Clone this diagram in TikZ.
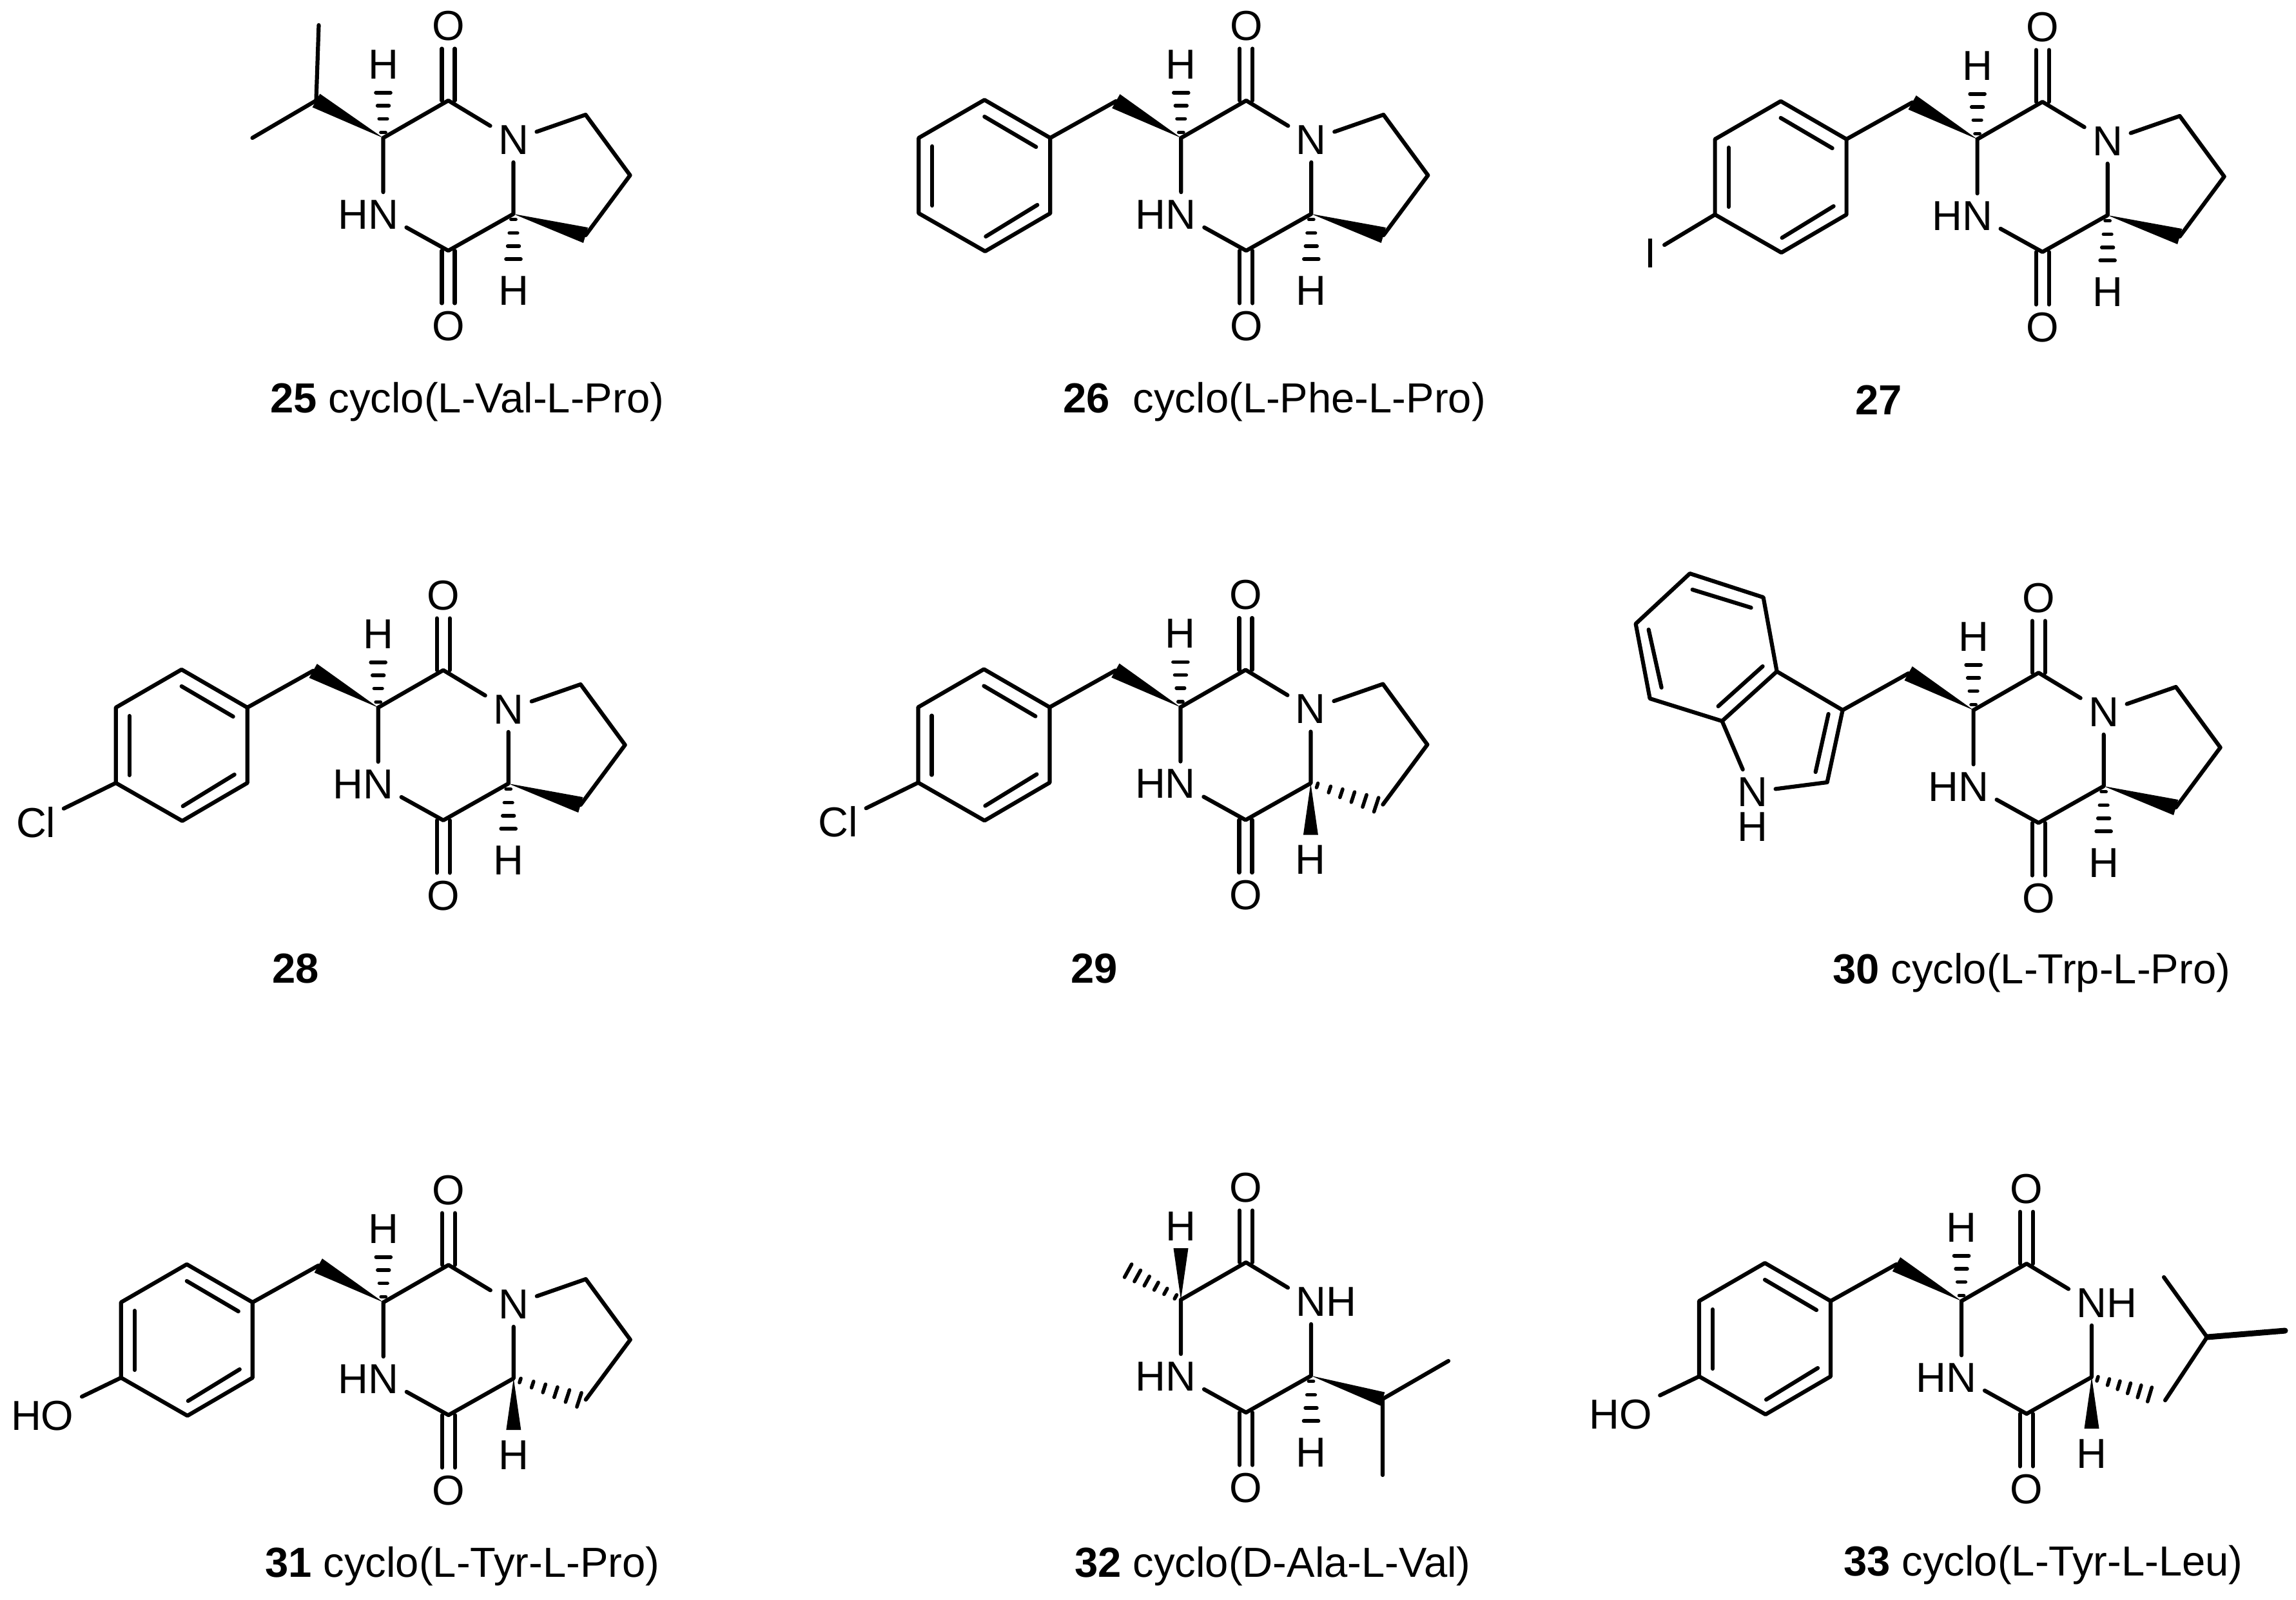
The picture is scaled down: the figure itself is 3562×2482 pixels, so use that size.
\documentclass[tikz,border=0pt]{standalone}
\usepackage{fontspec}
\setmainfont{Liberation Sans}
\usetikzlibrary{calc}

\tikzset{
   bond/.style={line width=0.62pt, line cap=round, line join=round},
   boldbond/.style={line width=0.9pt, line cap=round},
   hashmark/.style={line width=0.56pt, line cap=round},
   atom/.style={font=\fontsize{6.5}{7.5}\selectfont, inner sep=1.05pt},
   cpdname/.style={font=\fontsize{6.52}{7.5}\selectfont, inner sep=0pt, anchor=base west},
   cpdnum/.style={font=\fontsize{6.52}{7.5}\selectfont\bfseries, inner sep=0pt, anchor=base},
}

% wedge: tip, wide end, half width
\newcommand{\wedgebond}[3]{\fill ($(#2)!#3!90:(#1)$) -- (#1) -- ($(#2)!#3!-90:(#1)$) -- cycle;}
% hashed wedge: start, end, fractions
\newcommand{\hashbond}[3]{%
   \foreach \hpos in {#3} {
      \pgfmathsetmacro{\hw}{0.25+\hpos*1.0}
      \coordinate (hm) at ($(#1)!\hpos!(#2)$);
      \draw[hashmark] ($(hm)!\hw pt!90:(#2)$) -- ($(hm)!\hw pt!-90:(#2)$);
   }
}
\newcommand{\dkpring}[1]{%
   \coordinate (ca) at (0,0);
   \coordinate (cup) at (101,-58);
   \node[atom] (nr) at (202,3) {#1};
   \coordinate (cb) at (202,118);
   \coordinate (cdn) at (101,175);
   \node[atom] (nl) at (0,119) {\llap{H}N};
   \node[atom] (oup) at (101,-174) {O};
   \node[atom] (odn) at (101,292) {O};
   \node[atom] (hup) at (0,-114) {H};
   \node[atom] (hdn) at (202,237) {H};
   \coordinate (hupend) at (0,-78);
   \coordinate (hdnend) at (202,196);
   \coordinate (c4end) at (315,155);
   \draw[bond] (ca) -- (cup) -- (nr) -- (cb) -- (cdn) -- (nl) -- (ca);
   \draw[bond, transform canvas={xshift=-1pt}] (cup) -- (oup);
   \draw[bond, transform canvas={xshift=1pt}] (cup) -- (oup);
   \draw[bond, transform canvas={xshift=-1pt}] (cdn) -- (odn);
   \draw[bond, transform canvas={xshift=1pt}] (cdn) -- (odn);
}
\newcommand{\proring}{%
   \coordinate (pa) at (314,-36);
   \coordinate (pb) at (383,58);
   \coordinate (pc) at (314,151);
   \draw[bond] (nr) -- (pa) -- (pb) -- (pc);
}
\newcommand{\hashH}{\hashbond{ca}{hupend}{0.11,0.38,0.64,0.9}}
\newcommand{\hashHlow}{\hashbond{cb}{hdnend}{0.11,0.38,0.64,0.9}}
\newcommand{\benzylside}{%
   \coordinate (bn) at (-101,-57);
   \coordinate (ph1) at (-203,0);
   \wedgebond{ca}{bn}{1.25pt}
   \draw[bond] (bn) -- (ph1);
}
\newcommand{\phring}{%
   \coordinate (ph2) at (-305,-59);
   \coordinate (ph3) at (-407,0);
   \coordinate (ph4) at (-407,117);
   \coordinate (ph5) at (-304,176);
   \coordinate (ph6) at (-203,117);
   \coordinate (in1a) at (-305,-33);
   \coordinate (in1b) at (-225,14);
   \coordinate (in2a) at (-386,13);
   \coordinate (in2b) at (-386,105);
   \coordinate (in3a) at (-303,153);
   \coordinate (in3b) at (-223,104);
   \draw[bond] (ph1) -- (ph2) -- (ph3) -- (ph4) -- (ph5) -- (ph6) -- (ph1);
   \draw[bond] (in1a) -- (in1b);
   \draw[bond] (in2a) -- (in2b);
   \draw[bond] (in3a) -- (in3b);
}
% proline closure: hashed H, solid ring bond
\newcommand{\prohash}{%
   \hashHlow
   \wedgebond{cb}{pc}{1.25pt}
}
% proline closure: solid H, hashed ring bond
\newcommand{\prowide}{%
   \coordinate (hwide) at (202,198);
   \wedgebond{cb}{hwide}{1.15pt}
   \hashbond{cb}{c4end}{0.09,0.26,0.42,0.58,0.74,0.9}
}

\begin{document}
\begin{tikzpicture}[x=0.1pt, y=-0.1pt]
   \useasboundingbox (0,0) rectangle (3562,2482);

   % 25
   \begin{scope}[shift={(594.5,214)}, name prefix=a-]
      \dkpring{N}
      \proring
      \hashH
      \prohash
      \coordinate (ipr) at (-104,-58);
      \coordinate (me1) at (-100,-175);
      \coordinate (me2) at (-203,0);
      \wedgebond{ca}{ipr}{1.2pt}
      \draw[bond] (me1) -- (ipr) -- (me2);
   \end{scope}
   \node[cpdname] (lab25) at (417,640) {\textbf{25} cyclo(L-Val-L-Pro)};

   % 26
   \begin{scope}[shift={(1832.3,214)}, name prefix=b-]
      \dkpring{N}
      \proring
      \hashH
      \prohash
      \benzylside
      \phring
   \end{scope}
   \node[cpdname] (lab26) at (1647,640) {\textbf{26}~ cyclo(L-Phe-L-Pro)};

   % 27
   \begin{scope}[shift={(3067.6,216)}, name prefix=c-]
      \dkpring{N}
      \proring
      \hashH
      \prohash
      \benzylside
      \phring
      \node[atom] (iod) at (-507,177) {I};
      \draw[bond] (ph4) -- (iod);
   \end{scope}
   \node[cpdnum] (lab27) at (2914.5,643) {27};

   % 28
   \begin{scope}[shift={(586.7,1098)}, name prefix=d-]
      \dkpring{N}
      \proring
      \hashH
      \prohash
      \benzylside
      \phring
      \node[atom] (cl) at (-531,178) {Cl};
      \draw[bond] (ph4) -- (cl);
   \end{scope}
   \node[cpdnum] (lab28) at (459,1525) {28};

   % 29
   \begin{scope}[shift={(1831.4,1097.5)}, name prefix=e-]
      \dkpring{N}
      \proring
      \hashH
      \prowide
      \benzylside
      \phring
      \node[atom] (cl) at (-531,178) {Cl};
      \draw[bond] (ph4) -- (cl);
   \end{scope}
   \node[cpdnum] (lab29) at (1697.5,1525) {29};

   % 30
   \begin{scope}[shift={(3061.6,1102)}, name prefix=f-]
      \dkpring{N}
      \proring
      \hashH
      \prohash
      \benzylside
      \coordinate (i3a) at (-305,-60);
      \coordinate (i7a) at (-390,17);
      \coordinate (i2) at (-227,112);
      \coordinate (i4) at (-326,-175);
      \coordinate (i5) at (-440,-212);
      \coordinate (i6) at (-524,-134);
      \coordinate (i7) at (-502,-18);
      \node[atom] (nin) at (-343,127) {N};
      \node[atom] (hin) at (-343,181) {H};
      \coordinate (j1a) at (-436,-187);
      \coordinate (j1b) at (-345,-159);
      \coordinate (j2a) at (-504,-125);
      \coordinate (j2b) at (-484,-35);
      \coordinate (j3a) at (-327,-68);
      \coordinate (j3b) at (-396,-6);
      \coordinate (j4a) at (-225,6);
      \coordinate (j4b) at (-245,96);
      \draw[bond] (ph1) -- (i3a) -- (i4) -- (i5) -- (i6) -- (i7) -- (i7a) -- (i3a);
      \draw[bond] (i7a) -- (nin) -- (i2) -- (ph1);
      \draw[bond] (j1a) -- (j1b);
      \draw[bond] (j2a) -- (j2b);
      \draw[bond] (j3a) -- (j3b);
      \draw[bond] (j4a) -- (j4b);
   \end{scope}
   \node[cpdname] (lab30) at (2841,1526) {\textbf{30} cyclo(L-Trp-L-Pro)};

   % 31
   \begin{scope}[shift={(594.8,2021)}, name prefix=g-]
      \dkpring{N}
      \proring
      \hashH
      \prowide
      \benzylside
      \phring
      \node[atom] (oh) at (-529,176) {HO};
      \draw[bond] (ph4) -- (oh);
   \end{scope}
   \node[cpdname] (lab31) at (409,2447) {\textbf{31} cyclo(L-Tyr-L-Pro)};

   % 32
   \begin{scope}[shift={(1832,2017)}, name prefix=h-]
      \dkpring{N\rlap{H}}
      \hashHlow
      \coordinate (hwide) at (0,-80);
      \coordinate (mea) at (-91,-50);
      \wedgebond{ca}{hwide}{1.15pt}
      \hashbond{ca}{mea}{0.09,0.26,0.42,0.58,0.74,0.9}
      \coordinate (ipr) at (313,154);
      \coordinate (me1) at (415,95);
      \coordinate (me2) at (313,272);
      \wedgebond{cb}{ipr}{1.1pt}
      \draw[bond] (me1) -- (ipr) -- (me2);
   \end{scope}
   \node[cpdname] (lab32) at (1665,2447) {\textbf{32} cyclo(D-Ala-L-Val)};

   % 33
   \begin{scope}[shift={(3043,2019)}, name prefix=i-]
      \dkpring{N\rlap{H}}
      \hashH
      \benzylside
      \phring
      \node[atom] (oh) at (-529,176) {HO};
      \draw[bond] (ph4) -- (oh);
      \coordinate (hwide) at (202,198);
      \coordinate (lhash) at (302,148);
      \coordinate (lch2) at (316,154);
      \coordinate (lch) at (381,56);
      \coordinate (lme1) at (314,-37);
      \coordinate (lme2) at (502,46);
      \wedgebond{cb}{hwide}{1.15pt}
      \hashbond{cb}{lhash}{0.09,0.26,0.42,0.58,0.74,0.9}
      \draw[bond] (lch2) -- (lch) -- (lme1);
      \draw[boldbond] (lch) -- (lme2);
   \end{scope}
   \node[cpdname] (lab33) at (2858,2445) {\textbf{33} cyclo(L-Tyr-L-Leu)};
\end{tikzpicture}
\end{document}
